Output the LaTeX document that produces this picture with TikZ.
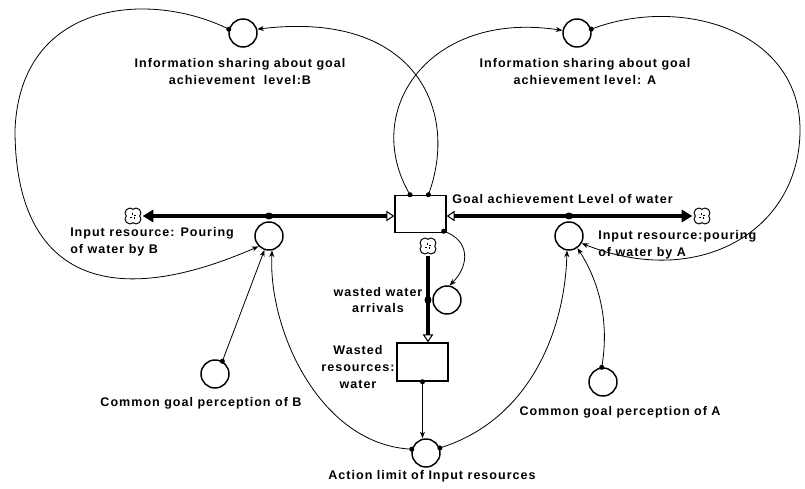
\documentclass[tikz,border=0pt]{standalone}
\usepackage{fontspec}
\setmainfont{Liberation Sans}[LetterSpace=8]
\usetikzlibrary{arrows.meta,calc}
\tikzset{
  lbl/.style={font=\fontsize{9.4}{12.5}\selectfont\bfseries, inner sep=0pt, align=center},
  aux/.style={circle, draw, line width=1.1pt, minimum size=21pt, inner sep=0pt},
  stockbox/.style={draw, line width=1.1pt, minimum width=38.25pt, minimum height=27.75pt, inner sep=0pt},
  cloudnode/.style={circle, minimum size=14pt, inner sep=0pt},
  conn/.style={line width=0.6pt, -{Stealth[length=5pt,width=3.8pt]}},
  srcdot/.style={fill=black},
  pipe/.style={line width=2.8pt},
  cloudpic/.pic={
    \foreach \a in {45,135,225,315} \fill[black] (\a:3.2pt) circle (4.1pt);
    \foreach \a in {45,135,225,315} \fill[white] (\a:3.2pt) circle (3.2pt);
    \draw[line width=0.6pt] (-2.2pt,-0.8pt) -- (-0.6pt,-0.8pt) (0.8pt,-2.2pt) -- (0.8pt,-0.6pt)
       (2.2pt,0.8pt) -- (0.6pt,0.8pt) (-0.8pt,2.2pt) -- (-0.8pt,0.6pt);
  }
}
\begin{document}
\begin{tikzpicture}[x=0.75pt,y=-0.75pt]
\useasboundingbox (0,0) rectangle (805,488);
% stocks
\node[stockbox] (stockG) at (420.5,214) {};
\node[stockbox, minimum height=28.5pt] (waste) at (422.5,362) {};
% auxiliaries
\node[aux] (infoB) at (243,33) {};
\node[aux] (infoA) at (577,33) {};
\node[aux] (inB) at (269,236) {};
\node[aux] (inA) at (569,236) {};
\node[aux] (arr) at (447,300) {};
\node[aux] (act) at (426,453) {};
\node[aux] (comB) at (215,374) {};
\node[aux] (comA) at (603,382) {};
% clouds
\node[cloudnode] (cloudL) at (133,216) {};
\node[cloudnode] (cloudR) at (702,216) {};
\node[cloudnode] (cloudW) at (428,246) {};
% labels
\node[lbl, anchor=west] (lblG) at (452,199) {Goal achievement Level of water};
\node[lbl, anchor=north west, align=left] (lblInB) at (70,227) {Input resource: Pouring\\of water by B};
\node[lbl, anchor=north west, align=left] (lblInA) at (598,230) {Input resource:pouring\\of water by A};
\node[lbl] (lblInfoB) at (240,71.5) {Information sharing about goal\\achievement\ \ level:B};
\node[lbl] (lblInfoA) at (585,71.5) {Information sharing about goal\\achievement level: A};
\node[lbl] (lblW) at (358,367) {Wasted\\resources:\\water};
\node[lbl] (lblArr) at (378,300) {wasted water\\arrivals};
\node[lbl] (lblAct) at (432,476) {Action limit of Input resources};
\node[lbl] (lblComB) at (201,403) {Common goal perception of B};
\node[lbl] (lblComA) at (620,412) {Common goal perception of A};
% pipes
\coordinate (gW) at (stockG.west |- cloudL);
\coordinate (gE) at (stockG.east |- cloudR);
\draw[pipe, {Triangle[length=8pt,width=9pt]}-{Triangle[open,length=6pt,width=8pt,line width=0.8pt]}] (cloudL) -- (gW);
\draw[pipe, {Triangle[length=8pt,width=9pt]}-{Triangle[open,length=6pt,width=8pt,line width=0.8pt]}] (cloudR) -- (gE);
\draw[pipe, -{Triangle[open,length=6pt,width=8pt,line width=0.8pt]}] (cloudW) -- (cloudW |- waste.north);
\pic at (cloudL) {cloudpic};
\pic at (cloudR) {cloudpic};
\pic at (cloudW) {cloudpic};
% valves
\coordinate (valveB) at (inB.north |- cloudL);
\coordinate (valveA) at (inA.north |- cloudR);
\coordinate (valveW) at (cloudW |- arr.west);
\fill (valveB) ellipse (3.2pt and 2.6pt);
\fill (valveA) ellipse (3.2pt and 2.6pt);
\fill (valveW) ellipse (2.6pt and 3.2pt);
% connector sources
\coordinate (s1) at ($(stockG.north west)!0.3!(stockG.north east)$);
\coordinate (s2) at ($(stockG.north west)!0.65!(stockG.north east)$);
\coordinate (s3) at (infoB.165);
\coordinate (s4) at (infoA.15);
\coordinate (s5) at ($(stockG.south east)+(-3,-2)$);
\coordinate (s6) at (waste.south);
\coordinate (s7) at (act.165);
\coordinate (s8) at (act.20);
\coordinate (s9) at (comB.60);
\coordinate (s10) at (comA.95);
% connectors
\draw[conn] (s1) .. controls (360,110) and (430,10) .. (infoA.170);
\draw[conn] (s2) .. controls (460,110) and (415,10) .. (infoB.15);
\draw[conn] (s3) .. controls (150,-10) and (20,0) .. (15,130) .. controls (15,260) and (90,320) .. (inB.225);
\draw[conn] (s4) .. controls (680,-5) and (800,30) .. (800,130) .. controls (800,230) and (700,290) .. (inA.-30);
\draw[conn] (s5) .. controls (470,240) and (470,265) .. (arr.80);
\draw[conn] (s6) -- (s6 |- act.north);
\draw[conn] (s7) .. controls (320,445) and (268,330) .. (inB.-78);
\draw[conn] (s8) .. controls (530,420) and (565,330) .. (inA.-98);
\draw[conn] (s9) -- (inB.-108);
\draw[conn] (s10) .. controls (610,320) and (598,280) .. (inA.-55);
\foreach \s in {s1,s2,s3,s4,s5,s6,s7,s8,s9,s10} \fill[srcdot] (\s) circle (1.9pt);
\end{tikzpicture}
\end{document}
